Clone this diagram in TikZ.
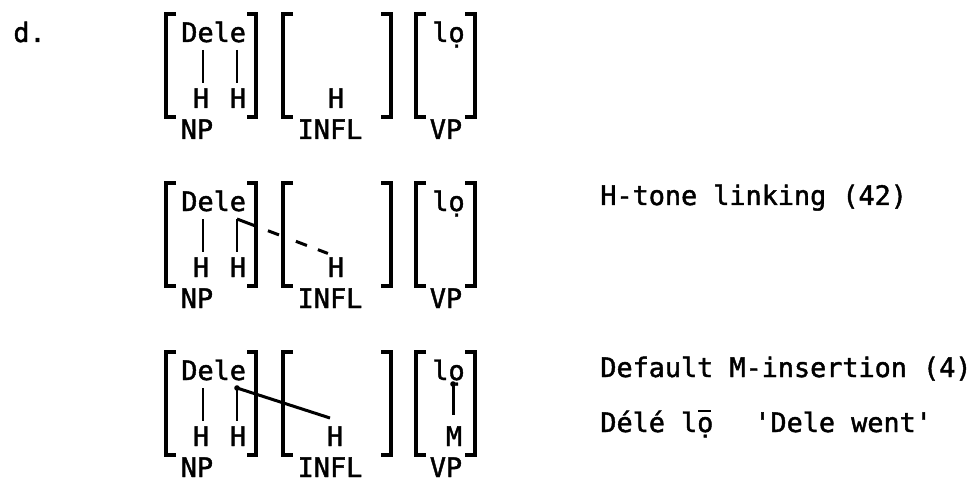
\documentclass[tikz,border=0pt]{standalone}
\usepackage{fontspec}
\newfontfamily\mono[FakeBold=1.6]{DejaVu Sans Mono}
\tikzset{
  txt/.style={font=\mono\fontsize{13.4pt}{16pt}\selectfont, inner sep=0pt, anchor=base west},
  ctxt/.style={txt, anchor=base},
  brk/.style={line width=1.8pt, line cap=butt, line join=miter},
  stem/.style={line width=1.1pt, shorten >=2.5pt},
  link/.style={line width=1.5pt},
}
\newcommand\baserow{%
  \draw[brk] (176,14) -| (166,117) -- (176,117);
  \draw[brk] (247,14) -| (256,117) -- (247,117);
  \draw[brk] (293,14) -| (283,117) -- (293,117);
  \draw[brk] (381,14) -| (391,117) -- (381,117);
  \draw[brk] (426,14) -| (416,117) -- (426,117);
  \draw[brk] (465,14) -| (475,117) -- (465,117);
  \node[txt] (dele) at (181,42) {Dele};
  \node[txt] (lo) at (432,42) {lọ};
  \node[ctxt] (h1) at (201,108) {H};
  \node[ctxt] (h2) at (238,108) {H};
  \node[ctxt] (np) at (197,139) {NP};
  \node[ctxt] (infl) at (330,139) {INFL};
  \node[ctxt] (vp) at (446,139) {VP};
  \coordinate (s1) at (203,50);
  \coordinate (s2) at (237,50);
  \draw[stem] (s1) -- (s1 |- h1.north);
  \draw[stem] (s2) -- (s2 |- h2.north);
}
\begin{document}
\begin{tikzpicture}[x=0.5pt,y=-0.5pt]
\useasboundingbox (0,0) rectangle (980,481);
\node[txt] (d) at (13,42) {d.};
% row 1
\begin{scope}[name prefix=ra-]
  \baserow
  \node[ctxt] (h3) at (336,108) {H};
\end{scope}
% row 2
\begin{scope}[shift={(0,169)}, name prefix=rb-]
  \baserow
  \node[ctxt] (h3) at (336,108) {H};
  \coordinate (hx) at (332,86);
  \draw[link, dash pattern=on 10.7pt off 5.85pt on 5.9pt off 9.05pt on 5.9pt off 5.85pt on 5.35pt off 5pt] (s2) -- (hx);
\end{scope}
\node[txt] (rule1) at (600,205) {H-tone linking (42)};
% row 3
\begin{scope}[shift={(0,338)}, name prefix=rc-]
  \baserow
  \node[ctxt] (h3) at (335,108) {H};
  \node[ctxt] (m) at (454,108) {M};
  \coordinate (hx) at (330,80);
  \coordinate (od) at (453,46);
  \coordinate (mx) at (453,77);
  \fill (s2) circle[radius=1.4pt];
  \draw[link] (s2) -- (hx);
  \fill (od) circle[radius=1.4pt];
  \draw[link] (od) -- (mx);
\end{scope}
\node[txt] (rule2) at (600,377) {Default M-insertion (4)};
\node[txt] (gloss) at (600,432) {Délé lọ};
\coordinate (mac1) at (698,411);
\coordinate (mac2) at (711,411);
\draw[line width=1.2pt] (mac1) -- (mac2);
\node[txt] (trans) at (754,432) {\textquotesingle Dele went\textquotesingle};
\end{tikzpicture}
\end{document}
